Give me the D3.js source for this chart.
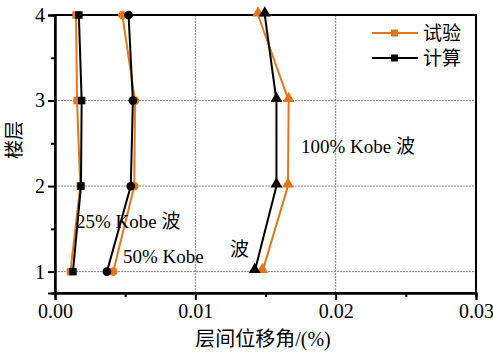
<!DOCTYPE html>
<html>
<head>
<meta charset="utf-8">
<script src="https://cdn.jsdelivr.net/npm/d3@7"></script>
<style>
  body { margin: 0; background: #fff; }
  .tick text { font-family: "Liberation Serif", "Times New Roman", serif; font-size: 20px; fill: #000; }
  .cn { font-family: "Noto Sans CJK SC", sans-serif; }
  .en { font-family: "Liberation Serif", "Times New Roman", serif; }
</style>
</head>
<body>
<div id="chart"></div>
<script>
'use strict';

// floors (y) and drift ratios (x)
const floors = [1, 2, 3, 4];

const test25 = [0.00110, 0.00180, 0.00157, 0.00150];
const calc25 = [0.00128, 0.00185, 0.00190, 0.00170];

const test50 = [0.00415, 0.00565, 0.00570, 0.00480];
const calc50 = [0.00370, 0.00540, 0.00555, 0.00524];

const test100 = [0.01478, 0.01660, 0.01665, 0.01447];
const calc100 = [0.01423, 0.01578, 0.01578, 0.01495];

const xTicks = [0, 0.01, 0.02, 0.03];
const yTicks = [1, 2, 3, 4];
const legendLabels = ['试验', '计算'];

const width = 493, height = 352;
const margin = { left: 55, right: 17, top: 15, bottom: 59 };
const orange = '#e3761c';

const svg = d3.select('#chart').append('svg')
    .attr('width', width)
    .attr('height', height);

const x = d3.scaleLinear().domain([0, 0.03]).range([margin.left, width - margin.right]);
const y = d3.scaleLinear().domain([0.75, 4]).range([height - margin.bottom, margin.top]);

// grid
const grid = svg.append('g').attr('stroke', '#888').attr('stroke-width', 1).attr('stroke-dasharray', '2,1');
grid.selectAll('line.gx').data([0.01, 0.02]).join('line')
    .attr('x1', d => x(d)).attr('x2', d => x(d))
    .attr('y1', y(4)).attr('y2', y(0.75));
grid.selectAll('line.gy').data([1, 2, 3]).join('line')
    .attr('x1', x(0)).attr('x2', x(0.03))
    .attr('y1', d => y(d)).attr('y2', d => y(d));

// frame
svg.append('rect')
    .attr('x', x(0)).attr('y', y(4))
    .attr('width', x(0.03) - x(0)).attr('height', y(0.75) - y(4))
    .attr('fill', 'none').attr('stroke', '#000').attr('stroke-width', 2);

// axes
svg.append('g')
    .attr('transform', `translate(0,${y(0.75)})`)
    .call(d3.axisBottom(x).tickValues(xTicks).tickFormat(d3.format('.2f')).tickSize(7).tickPadding(4));
svg.append('g')
    .attr('transform', `translate(0,${y(0.75)})`)
    .call(d3.axisBottom(x).tickValues([0.005, 0.015, 0.025]).tickFormat('').tickSize(4));

svg.append('g')
    .attr('transform', `translate(${x(0)},0)`)
    .call(d3.axisLeft(y).tickValues(yTicks).tickFormat(d3.format('d')).tickSize(7).tickPadding(3));
svg.append('g')
    .attr('transform', `translate(${x(0)},0)`)
    .call(d3.axisLeft(y).tickValues([1.5, 2.5, 3.5]).tickFormat('').tickSize(4));

svg.selectAll('.domain').attr('stroke', '#000').attr('stroke-width', 2);
svg.selectAll('.tick line').attr('stroke', '#000').attr('stroke-width', 2);

// series
const line = d3.line().x(d => x(d[0])).y(d => y(d[1]));

const symbolSize = { square: 56, circle: 60, triangle: 60 };
const symbolType = { square: d3.symbolSquare, circle: d3.symbolCircle, triangle: d3.symbolTriangle };

function drawSeries(values, color, shape) {
    const pts = values.map((v, i) => [v, floors[i]]);
    const g = svg.append('g');
    g.append('path')
        .datum(pts)
        .attr('d', line)
        .attr('fill', 'none')
        .attr('stroke', color)
        .attr('stroke-width', 2);
    g.selectAll('path.m').data(pts).join('path')
        .classed('m', true)
        .attr('transform', d => `translate(${x(d[0])},${y(d[1]) - (shape === 'triangle' ? 2 : 0)})`)
        .attr('d', d3.symbol().type(symbolType[shape]).size(symbolSize[shape]))
        .attr('fill', color);
}

drawSeries(test25, orange, 'square');
drawSeries(test50, orange, 'circle');
drawSeries(test100, orange, 'triangle');
drawSeries(calc25, '#000', 'square');
drawSeries(calc50, '#000', 'circle');
drawSeries(calc100, '#000', 'triangle');

// legend
const legend = svg.append('g');
[orange, '#000'].forEach((c, i) => {
    const ly = 33 + i * 25;
    legend.append('line')
        .attr('x1', 372).attr('x2', 418).attr('y1', ly).attr('y2', ly)
        .attr('stroke', c).attr('stroke-width', 2);
    legend.append('rect')
        .attr('x', 391).attr('y', ly - 3.5).attr('width', 7).attr('height', 7)
        .attr('fill', c);
    legend.append('text')
        .attr('class', 'cn')
        .attr('x', 423).attr('y', ly + 7)
        .attr('font-size', 19)
        .text(legendLabels[i]);
});

// annotations
function note(tx, ty, parts) {
    const t = svg.append('text').attr('x', tx).attr('y', ty).attr('font-size', 19);
    parts.forEach(p => t.append('tspan').attr('class', p[1]).text(p[0]));
}
note(301, 153, [['100% Kobe ', 'en'], ['波', 'cn']]);
note(76, 228, [['25% Kobe ', 'en'], ['波', 'cn']]);
note(123, 263, [['50% Kobe', 'en']]);
note(230, 256, [['波', 'cn']]);

// axis titles
svg.append('text')
    .attr('class', 'cn')
    .attr('text-anchor', 'middle')
    .attr('font-size', 19)
    .attr('transform', `translate(21,140) rotate(-90)`)
    .text('楼层');

const xt = svg.append('text')
    .attr('text-anchor', 'middle')
    .attr('font-size', 20)
    .attr('x', 263)
    .attr('y', 346);
xt.append('tspan').attr('class', 'cn').text('层间位移角');
xt.append('tspan').attr('class', 'en').text('/(%)');
</script>
</body>
</html>
